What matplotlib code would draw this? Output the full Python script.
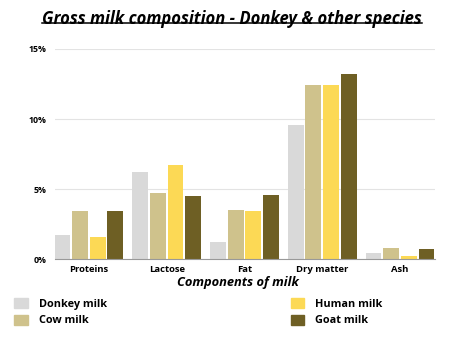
import matplotlib
matplotlib.use("Agg")
import matplotlib.pyplot as plt
from matplotlib import font_manager as fm
import numpy as np
from matplotlib.lines import Line2D

categories = ["Proteins", "Lactose", "Fat", "Dry matter", "Ash"]
series_names = ["Donkey milk", "Cow milk", "Human milk", "Goat milk"]
donkey = [1.7, 6.2, 1.2, 9.6, 0.4]
cow = [3.4, 4.7, 3.5, 12.4, 0.8]
human = [1.6, 6.7, 3.4, 12.4, 0.25]
goat = [3.4, 4.5, 4.6, 13.2, 0.75]
colors = ["#d9d9d9", "#cfc28c", "#fcd955", "#6e5f24"]
yticks = [0, 5, 10, 15]
ytick_labels = ["0%", "5%", "10%", "15%"]


def font_file(name):
    # matplotlib picks the condensed Open Sans by name, so use the static files directly
    for f in fm.fontManager.ttflist:
        if f.fname.split("/")[-1] == name:
            return f.fname
    return None


def fp(name, size, style="normal"):
    fn = font_file(name)
    if fn:
        return fm.FontProperties(fname=fn, size=size)
    return fm.FontProperties(family="DejaVu Sans", weight="bold", style=style, size=size)


fig = plt.figure(figsize=(4.52, 3.45), dpi=100)
ax = fig.add_axes([0.1217, 0.249, 0.8407, 0.609])

x = np.arange(len(categories))
bw = 0.205
step = 0.227
for i, (vals, c, name) in enumerate(zip([donkey, cow, human, goat], colors, series_names)):
    ax.bar(x + (i - 1.5) * step, vals, width=bw, color=c, label=name, zorder=2)

ax.set_xlim(-0.436, 4.45)
ax.set_ylim(0, 15)
ax.set_yticks(yticks)
ax.set_yticklabels(ytick_labels, fontproperties=fp("OpenSans-Bold.ttf", 6.3))
ax.set_xticks(x)
ax.set_xticklabels(categories, fontproperties=fp("OpenSans-Bold.ttf", 6.8))
ax.tick_params(length=0, pad=4)
ax.tick_params(axis="y", pad=6)
ax.grid(axis="y", color="#e3e3e3", linewidth=0.8, zorder=0)
for s in ["top", "right", "left"]:
    ax.spines[s].set_visible(False)
ax.spines["bottom"].set_color("#999999")
ax.spines["bottom"].set_linewidth(0.8)

ax.set_xlabel("Components of milk", fontproperties=fp("OpenSans-BoldItalic.ttf", 9.3, "italic"))
ax.xaxis.set_label_coords(0.482, -0.082)

title = fig.text(0.513, 0.945, "Gross milk composition - Donkey & other species",
                 ha="center", va="center", fontproperties=fp("OpenSans-BoldItalic.ttf", 12, "italic"))
fig.canvas.draw()
bb = title.get_window_extent().transformed(fig.transFigure.inverted())
fig.add_artist(Line2D([bb.x0, bb.x1], [bb.y0 + 0.014, bb.y0 + 0.014], color="black", linewidth=1.1))

handles = [plt.Rectangle((0, 0), 1, 1, color=c) for c in colors]
fig.legend(handles, series_names, loc="upper left", bbox_to_anchor=(0.01, 0.165), ncol=2,
           frameon=False, prop=fp("OpenSans-Bold.ttf", 7.8), handlelength=1.25, handleheight=1.1,
           columnspacing=17, labelspacing=0.45, handletextpad=1.0)

fig.savefig("out.png", dpi=100)
